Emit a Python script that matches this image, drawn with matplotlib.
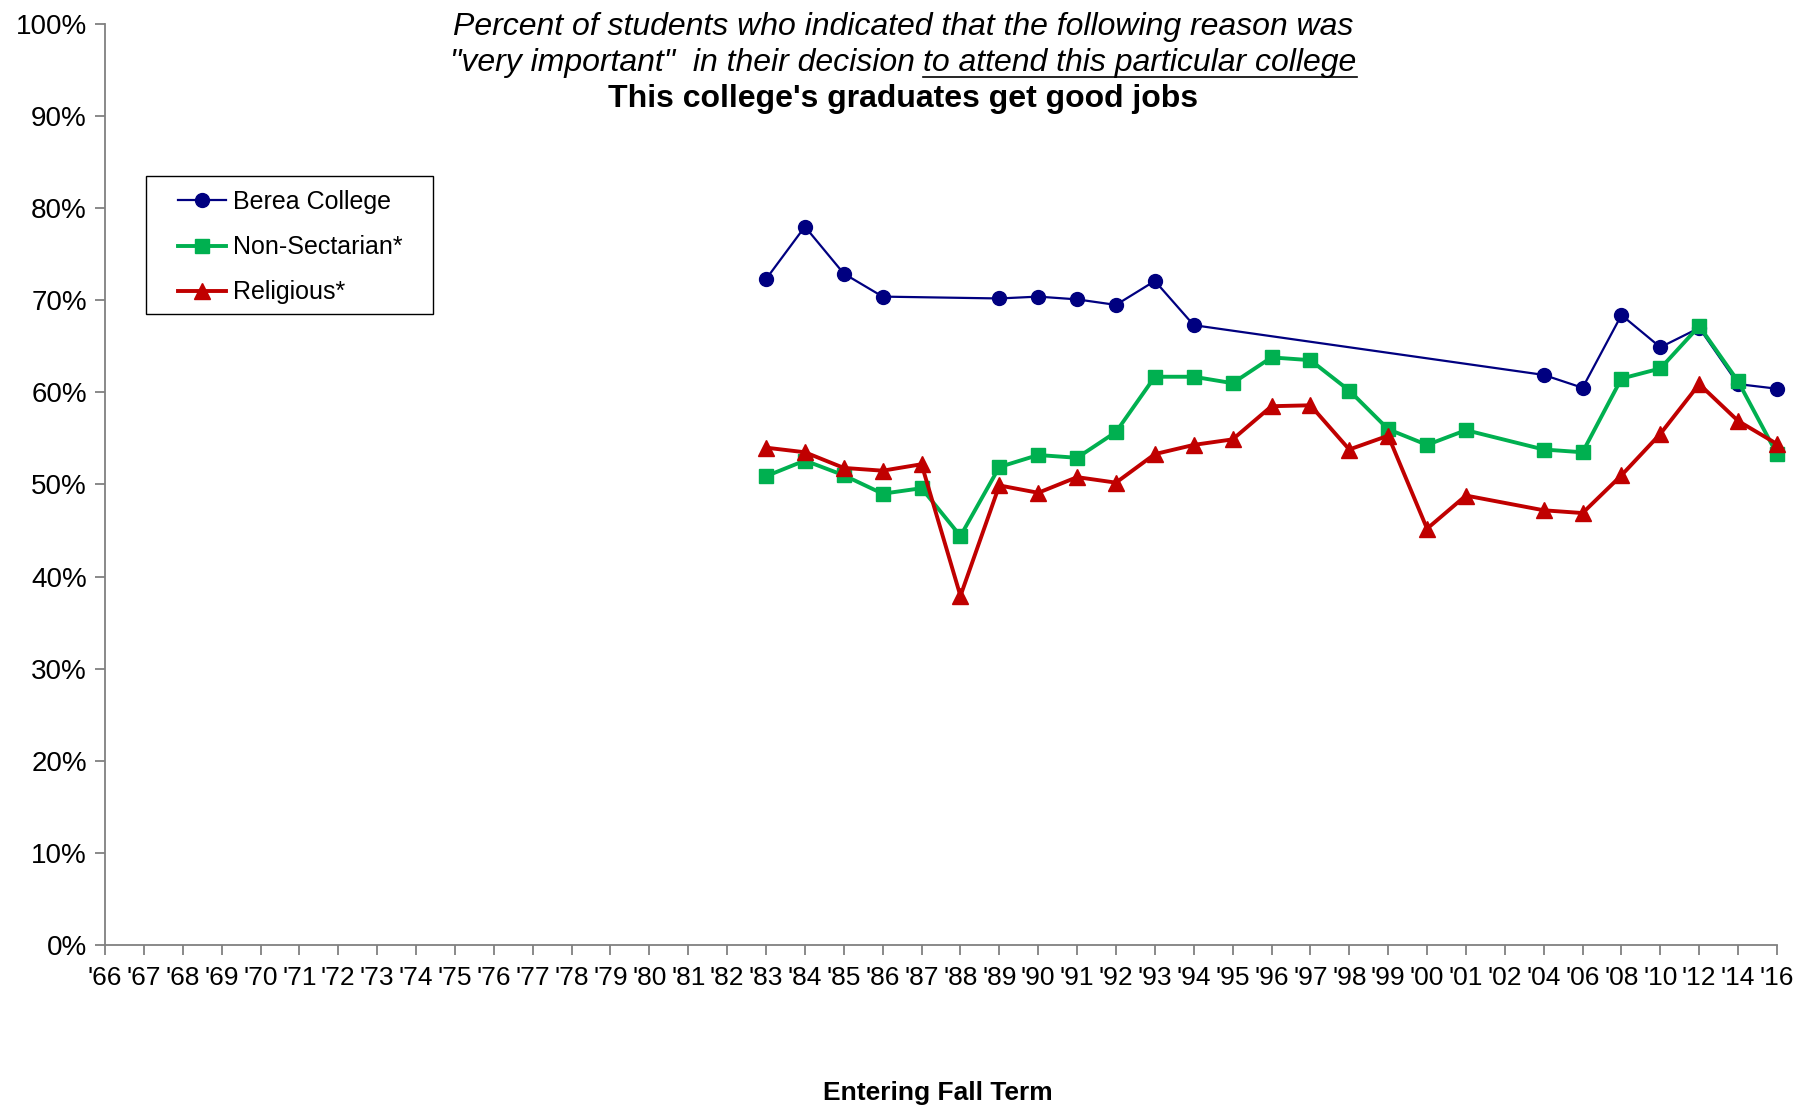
import numpy as np
import matplotlib
matplotlib.use("Agg")
import matplotlib.pyplot as plt
from matplotlib.lines import Line2D
from matplotlib.patches import Rectangle
from matplotlib.ticker import FuncFormatter

plt.rcParams['font.family'] = ['Liberation Sans Narrow', 'Liberation Sans', 'DejaVu Sans']

# x categories (entering fall term)
years = ["'66", "'67", "'68", "'69", "'70", "'71", "'72", "'73", "'74", "'75",
         "'76", "'77", "'78", "'79", "'80", "'81", "'82", "'83", "'84", "'85",
         "'86", "'87", "'88", "'89", "'90", "'91", "'92", "'93", "'94", "'95",
         "'96", "'97", "'98", "'99", "'00", "'01", "'02", "'04", "'06", "'08",
         "'10", "'12", "'14", "'16"]

nan = np.nan
# values from '83 onward (earlier years have no data)
berea_83on = [72.3, 78.0, 72.9, 70.4, nan, nan, 70.2, 70.4, 70.1, 69.5,
              72.1, 67.3, nan, nan, nan, nan, nan, nan, nan, nan,
              61.9, 60.5, 68.4, 64.9, 67.0, 60.9, 60.4]
nonsect_83on = [50.9, 52.6, 51.0, 49.0, 49.6, 44.4, 51.9, 53.2, 52.9, 55.7,
                61.7, 61.7, 61.0, 63.8, 63.5, 60.2, 56.0, 54.3, 55.9, nan,
                53.8, 53.5, 61.5, 62.6, 67.2, 61.2, 53.3]
relig_83on = [54.0, 53.5, 51.8, 51.5, 52.2, 37.9, 49.9, 49.1, 50.8, 50.2,
              53.3, 54.3, 54.9, 58.5, 58.6, 53.8, 55.3, 45.2, 48.8, nan,
              47.2, 46.9, 51.0, 55.5, 60.9, 56.9, 54.4]

pad = [nan] * (len(years) - len(berea_83on))
berea = np.array(pad + berea_83on)
nonsect = np.array(pad + nonsect_83on)
relig = np.array(pad + relig_83on)

W, H = 1816, 1108
fig = plt.figure(figsize=(W / 100, H / 100), dpi=100)
ax = fig.add_axes([105 / W, 1 - 945 / H, 1672 / W, 921 / H])

x = np.arange(len(years))
series = [
    ("Berea College", berea, '#000080', 'o', 1.6, 10),
    ("Non-Sectarian*", nonsect, '#00B050', 's', 2.8, 10),
    ("Religious*", relig, '#C00000', '^', 2.8, 11),
]
for name, vals, col, mk, lw, ms in series:
    ok = ~np.isnan(vals)
    ax.plot(x[ok], vals[ok], color=col, marker=mk, lw=lw, ms=ms,
            markeredgecolor=col, label=name, clip_on=False)

ax.set_xlim(0, len(years) - 1)
ax.set_ylim(0, 100)
ax.set_yticks(np.arange(0, 101, 10))
ax.yaxis.set_major_formatter(FuncFormatter(lambda v, p: '%d%%' % v))
ax.set_xticks(x)
ax.set_xticklabels(years)
for s in ['top', 'right']:
    ax.spines[s].set_visible(False)
for s in ['left', 'bottom']:
    ax.spines[s].set_color('#808080')
    ax.spines[s].set_linewidth(1.3)
ax.tick_params(axis='y', direction='out', length=7, width=1.3, color='#808080',
               labelsize=20, pad=6)
ax.tick_params(axis='x', direction='out', length=7, width=1.3, color='#808080',
               labelsize=19, pad=8)

# legend without its own frame, box drawn separately
leg = ax.legend(loc='upper left', bbox_to_anchor=(178 / W, 1 - 190 / H),
                bbox_transform=fig.transFigure, fontsize=18, frameon=False,
                borderaxespad=0, borderpad=0, handlelength=1.9,
                handletextpad=0.3, labelspacing=0.85)
fig.add_artist(Rectangle((146 / W, 1 - 314 / H), 287 / W, 138 / H,
                         transform=fig.transFigure, fill=False,
                         edgecolor='black', lw=1.0))

# title lines
cx = 903
fs_t = 23
fig.text(cx / W, 1 - 26.5 / H, "Percent of students who indicated that the following reason was",
         ha='center', va='center', fontsize=fs_t, style='italic')
fig.text(cx / W, 1 - 99.5 / H, "This college's graduates get good jobs",
         ha='center', va='center', fontsize=fs_t, weight='bold')

part1 = '"very important"  in their decision '
part2 = 'to attend this particular college'
y2 = 1 - 62.5 / H
ta = fig.text(0, y2, part1, ha='left', va='center', fontsize=fs_t, style='italic')
tb = fig.text(0, y2, part2, ha='left', va='center', fontsize=fs_t, style='italic')
r = fig.canvas.get_renderer()
wa = ta.get_window_extent(r).width
wb = tb.get_window_extent(r).width
x0 = cx - (wa + wb) / 2
ta.set_x(x0 / W)
tb.set_x((x0 + wa) / W)
bb = tb.get_window_extent(r)
fig.add_artist(Line2D([bb.x0 / W, bb.x1 / W], [(bb.y0 + 1) / H] * 2,
                      transform=fig.transFigure, color='black', lw=1.2))

fig.text(938 / W, 1 - 1093 / H, "Entering Fall Term", ha='center', va='center',
         fontsize=19, weight='bold')

fig.savefig('out.png', dpi=100)
